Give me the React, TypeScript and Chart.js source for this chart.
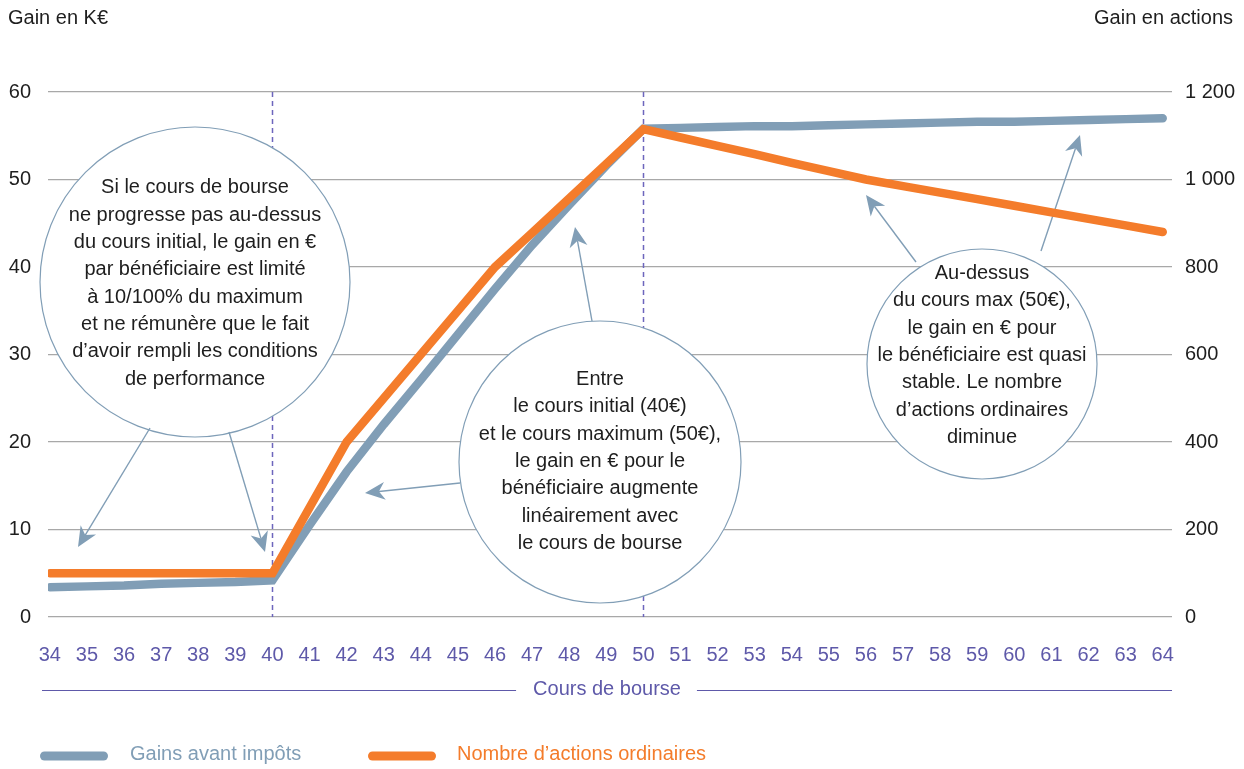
import React, { useEffect, useRef } from 'react';
import { Chart, registerables } from 'chart.js';

Chart.register(...registerables);

// ---------- DATA ----------
const prices = [34, 35, 36, 37, 38, 39, 40, 41, 42, 43, 44, 45, 46, 47, 48, 49, 50, 51, 52, 53, 54, 55, 56, 57, 58, 59, 60, 61, 62, 63, 64];
const gainsKEur = [3.4, 3.5, 3.6, 3.8, 3.9, 4.0, 4.2, 10.5, 16.6, 22.0, 27.1, 32.3, 37.5, 42.5, 47.1, 51.6, 55.8, 55.9, 56.0, 56.1, 56.1, 56.2, 56.3, 56.4, 56.5, 56.6, 56.6, 56.7, 56.8, 56.9, 57.0];
const actionsCount = [100, 100, 100, 100, 100, 100, 100, 250, 400, 500, 600, 700, 800, 878, 957, 1036, 1115, 1096, 1077, 1058, 1038, 1019, 1000, 985, 970, 955, 940, 925, 910, 895, 880];
const leftTickValues = [0, 10, 20, 30, 40, 50, 60];
const rightTickValues = [0, 200, 400, 600, 800, 1000, 1200];
const rightTickLabels = ['0', '200', '400', '600', '800', '1 000', '1 200'];
const markerPrices = [40, 50];
const seriesLabels = ['Gains avant impôts', "Nombre d’actions ordinaires"];

const bubbleTexts = [
  ['Si le cours de bourse', 'ne progresse pas au-dessus', 'du cours initial, le gain en €', 'par bénéficiaire est limité', 'à 10/100% du maximum', 'et ne rémunère que le fait', 'd’avoir rempli les conditions', 'de performance'],
  ['Entre', 'le cours initial (40€)', 'et le cours maximum (50€),', 'le gain en € pour le', 'bénéficiaire augmente', 'linéairement avec', 'le cours de bourse'],
  ['Au-dessus', 'du cours max (50€),', 'le gain en € pour', 'le bénéficiaire est quasi', 'stable. Le nombre', 'd’actions ordinaires', 'diminue'],
];

// ---------- STYLE ----------
const GRAY = '#819eb6';
const ORANGE = '#f47c2b';
const PURPLE = '#5e59a9';
const DASH = '#6d66bd';
const TEXT = '#1e1e1e';
const FONT = '"Liberation Sans", Arial, sans-serif';

// annotation layout (pixels)
const bubbleGeom = [
  { cx: 195, cy: 282, r: 155, ty: 283.5 },
  { cx: 600, cy: 462, r: 141, ty: 461.5 },
  { cx: 982, cy: 364, r: 115, ty: 355.5 },
];
const arrowGeom = [
  [150, 428, 78, 547],
  [229, 432, 265, 552],
  [460, 483, 365, 493],
  [592, 321, 575, 227],
  [916, 262, 866, 195],
  [1041, 251, 1080, 135],
];

function drawArrow(ctx: CanvasRenderingContext2D, x1: number, y1: number, x2: number, y2: number) {
  const ang = Math.atan2(y2 - y1, x2 - x1);
  const c = Math.cos(ang);
  const s = Math.sin(ang);
  const L = 20;
  const W = 9;
  const notch = 6;
  const p = (dx: number, dy: number): [number, number] => [x2 + dx * c - dy * s, y2 + dx * s + dy * c];
  const base = p(-(L - notch), 0);
  ctx.beginPath();
  ctx.moveTo(x1, y1);
  ctx.lineTo(base[0], base[1]);
  ctx.stroke();
  const a = p(-L, -W);
  const b = p(-L, W);
  ctx.beginPath();
  ctx.moveTo(x2, y2);
  ctx.lineTo(a[0], a[1]);
  ctx.lineTo(base[0], base[1]);
  ctx.lineTo(b[0], b[1]);
  ctx.closePath();
  ctx.fill();
}

const annotationPlugin = {
  id: 'annotations',
  beforeDatasetsDraw(chart: any) {
    const ctx: CanvasRenderingContext2D = chart.ctx;
    const { top, bottom } = chart.chartArea;
    const xs = chart.scales.x;
    ctx.save();
    // dashed vertical markers
    ctx.strokeStyle = DASH;
    ctx.lineWidth = 1.5;
    ctx.setLineDash([5, 4]);
    markerPrices.forEach((m) => {
      const px = Math.round(xs.getPixelForValue(m)) + 0.5;
      ctx.beginPath();
      ctx.moveTo(px, top);
      ctx.lineTo(px, bottom);
      ctx.stroke();
    });
    ctx.setLineDash([]);
    // bubbles
    bubbleGeom.forEach((g, k) => {
      ctx.beginPath();
      ctx.arc(g.cx, g.cy, g.r, 0, Math.PI * 2);
      ctx.fillStyle = '#ffffff';
      ctx.fill();
      ctx.strokeStyle = GRAY;
      ctx.lineWidth = 1.2;
      ctx.stroke();
      const lines = bubbleTexts[k];
      ctx.fillStyle = TEXT;
      ctx.font = `20px ${FONT}`;
      ctx.textAlign = 'center';
      ctx.textBaseline = 'middle';
      const n = lines.length;
      lines.forEach((t, i) => {
        ctx.fillText(t, g.cx, g.ty + (i - (n - 1) / 2) * 27.3);
      });
    });
    // arrows
    ctx.strokeStyle = GRAY;
    ctx.fillStyle = GRAY;
    ctx.lineWidth = 1.4;
    arrowGeom.forEach(([a, b, c, d]) => drawArrow(ctx, a, b, c, d));
    ctx.restore();
  },
  afterDraw(chart: any) {
    const ctx: CanvasRenderingContext2D = chart.ctx;
    const { left, right } = chart.chartArea;
    ctx.save();
    // axis titles top
    ctx.font = `20px ${FONT}`;
    ctx.fillStyle = TEXT;
    ctx.textBaseline = 'middle';
    ctx.textAlign = 'left';
    ctx.fillText('Gain en K€', 8, 18);
    ctx.textAlign = 'right';
    ctx.fillText('Gain en actions', 1233, 18);
    // x axis title with rules
    const title = 'Cours de bourse';
    const cx = 607;
    const ty = 689;
    ctx.font = `20px ${FONT}`;
    ctx.fillStyle = PURPLE;
    ctx.textAlign = 'center';
    ctx.fillText(title, cx, ty);
    const w = ctx.measureText(title).width;
    ctx.strokeStyle = PURPLE;
    ctx.lineWidth = 1.2;
    ctx.beginPath();
    ctx.moveTo(left - 6, 690.5);
    ctx.lineTo(cx - w / 2 - 17, 690.5);
    ctx.moveTo(cx + w / 2 + 16, 690.5);
    ctx.lineTo(right, 690.5);
    ctx.stroke();
    // legend
    const ds = chart.data.datasets;
    const items = [
      { x0: 40, x1: 108, tx: 130, d: ds[0] },
      { x0: 368, x1: 436, tx: 457, d: ds[1] },
    ];
    items.forEach((it) => {
      ctx.strokeStyle = it.d.borderColor;
      ctx.lineWidth = 9;
      ctx.lineCap = 'round';
      ctx.beginPath();
      ctx.moveTo(it.x0 + 4.5, 756);
      ctx.lineTo(it.x1 - 4.5, 756);
      ctx.stroke();
      ctx.fillStyle = it.d.borderColor;
      ctx.textAlign = 'left';
      ctx.textBaseline = 'middle';
      ctx.font = `20px ${FONT}`;
      ctx.fillText(it.d.label, it.tx, 754);
    });
    ctx.restore();
  },
};

export default function App() {
  const canvasRef = useRef<HTMLCanvasElement | null>(null);

  useEffect(() => {
    if (!canvasRef.current) return;
    const chart = new Chart(canvasRef.current, {
      type: 'line',
      data: {
        datasets: [
          {
            label: seriesLabels[0],
            data: prices.map((p, i) => ({ x: p, y: gainsKEur[i] })),
            borderColor: GRAY,
            backgroundColor: GRAY,
            borderWidth: 8.5,
            borderCapStyle: 'round',
            borderJoinStyle: 'miter',
            pointRadius: 0,
            tension: 0,
            yAxisID: 'y',
            order: 2,
          },
          {
            label: seriesLabels[1],
            data: prices.map((p, i) => ({ x: p, y: actionsCount[i] })),
            borderColor: ORANGE,
            backgroundColor: ORANGE,
            borderWidth: 8.5,
            borderCapStyle: 'round',
            borderJoinStyle: 'miter',
            pointRadius: 0,
            tension: 0,
            yAxisID: 'y2',
            order: 1,
          },
        ],
      },
      options: {
        responsive: false,
        animation: false,
        layout: { padding: { top: 92, left: 0, right: 0, bottom: 0 } },
        plugins: {
          legend: { display: false },
          tooltip: { enabled: false },
        },
        scales: {
          x: {
            type: 'linear',
            min: 33.95,
            max: 64.25,
            afterBuildTicks: (s: any) => {
              s.ticks = prices.map((v) => ({ value: v }));
            },
            afterFit: (s: any) => {
              s.height = 152;
            },
            grid: { display: false, drawTicks: false },
            border: { display: false },
            ticks: {
              color: PURPLE,
              font: { family: FONT, size: 20 },
              padding: 26,
              autoSkip: false,
              maxRotation: 0,
              callback: (v: any) => String(v),
            },
          },
          y: {
            position: 'left',
            min: 0,
            max: 60,
            afterBuildTicks: (s: any) => {
              s.ticks = leftTickValues.map((v) => ({ value: v }));
            },
            afterFit: (s: any) => {
              s.width = 48;
            },
            grid: { color: '#a8a8a8', lineWidth: 1.2, drawTicks: false },
            border: { display: false },
            ticks: {
              color: TEXT,
              font: { family: FONT, size: 20 },
              padding: 17,
              callback: (v: any) => String(v),
            },
          },
          y2: {
            position: 'right',
            min: 0,
            max: 1200,
            afterBuildTicks: (s: any) => {
              s.ticks = rightTickValues.map((v) => ({ value: v }));
            },
            afterFit: (s: any) => {
              s.width = 72;
            },
            grid: { display: false, drawTicks: false },
            border: { display: false },
            ticks: {
              color: TEXT,
              font: { family: FONT, size: 20 },
              padding: 13,
              callback: (_v: any, i: number) => rightTickLabels[i],
            },
          },
        },
      } as any,
      plugins: [annotationPlugin],
    });
    return () => chart.destroy();
  }, []);

  return (
    <div style={{ position: 'absolute', left: 0, top: 0, width: 1244, height: 769, background: '#ffffff' }}>
      <canvas ref={canvasRef} width={1244} height={769} style={{ display: 'block', width: 1244, height: 769 }} />
    </div>
  );
}
